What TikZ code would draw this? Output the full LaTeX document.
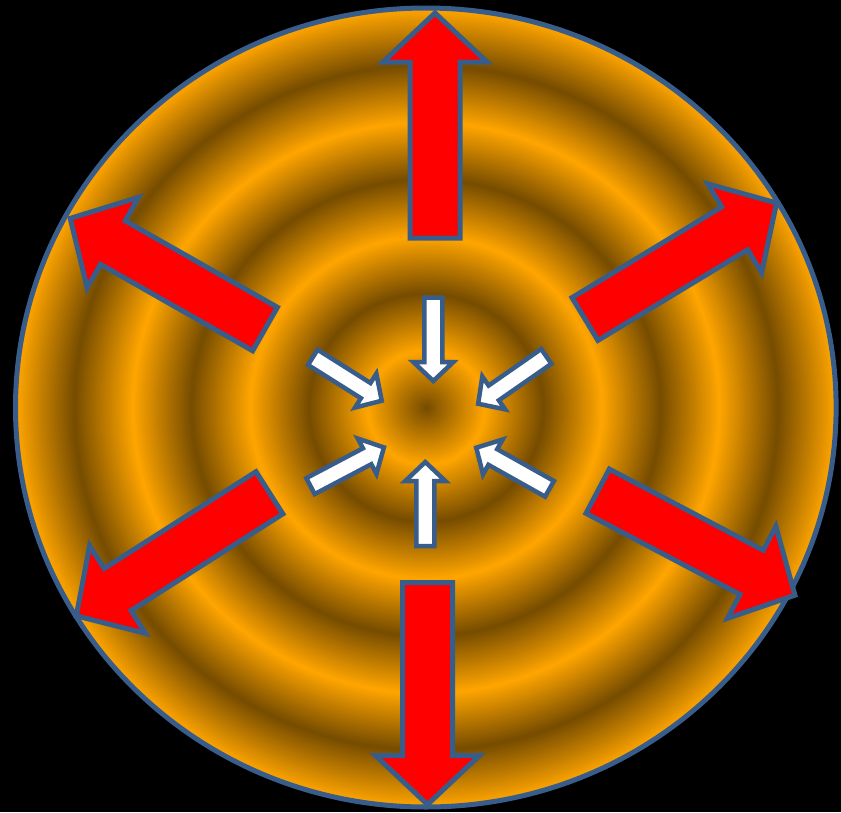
\documentclass[tikz,border=0pt]{standalone}
\usepackage{xcolor}
\definecolor{ringorange}{RGB}{255, 165, 0}
\definecolor{ringdark}{RGB}{118, 76, 0}
\definecolor{edgeblue}{RGB}{56, 93, 138}
\definecolor{burstred}{RGB}{255, 0, 0}
\usepackage{tikz}
\usetikzlibrary{
  arrows.meta,
  positioning,
  calc
}

% concentric bands: dark at the centre, orange at the rim
\pgfdeclareradialshading{rings}{\pgfpoint{0bp}{0bp}}{%
  color(0bp)=(ringdark); color(3.57bp)=(ringorange);
  color(7.14bp)=(ringdark); color(10.71bp)=(ringorange);
  color(14.29bp)=(ringdark); color(17.86bp)=(ringorange);
  color(21.43bp)=(ringdark); color(25bp)=(ringorange);
  color(50bp)=(ringorange)}

\tikzset{
  outarrow/.style={fill=burstred, draw=edgeblue, line width=5pt},
  inarrow/.style={fill=white, draw=edgeblue, line width=4.5pt}
}

\begin{document}
\begin{tikzpicture}[x=1pt, y=-1pt]

  \useasboundingbox (0,0) rectangle (841,812);
  \fill[black] (0,0) rectangle (841,812);

  % the disc
  \coordinate (mid) at (425.8,407.5);
  \shadedraw[shading=rings, draw=edgeblue, line width=5pt]
    (mid) ellipse [x radius=410.3, y radius=399.5];

  % six outward block arrows
  \foreach \tx/\ty/\ang/\len in {
    435/238/90/225,
    585/319/31.2/224,
    265/329/150.4/224,
    269.4/492.8/212.5/229,
    427.5/582.5/270/222,
    597.7/491.2/-27.8/223
  } {
    \begin{scope}[shift={(\tx,\ty)}, rotate=\ang]
      \draw[outarrow] (0,-25) -- (\len-49,-25) -- (\len-49,-52) -- (\len,0)
        -- (\len-49,52) -- (\len-49,25) -- (0,25) -- cycle;
    \end{scope}
  }

  % six inward block arrows
  \foreach \tx/\ty/\ang/\len in {
    433.3/297.5/270/83.5,
    546.3/356.4/214.8/83,
    312.8/357.3/-32.2/81.5,
    310.5/486.1/27.8/83,
    425.3/546/90/84,
    549.5/488.8/150.7/84
  } {
    \begin{scope}[shift={(\tx,\ty)}, rotate=\ang]
      \draw[inarrow] (0,-9) -- (\len-19,-9) -- (\len-19,-20) -- (\len,0)
        -- (\len-19,20) -- (\len-19,9) -- (0,9) -- cycle;
    \end{scope}
  }
\end{tikzpicture}
\end{document}
